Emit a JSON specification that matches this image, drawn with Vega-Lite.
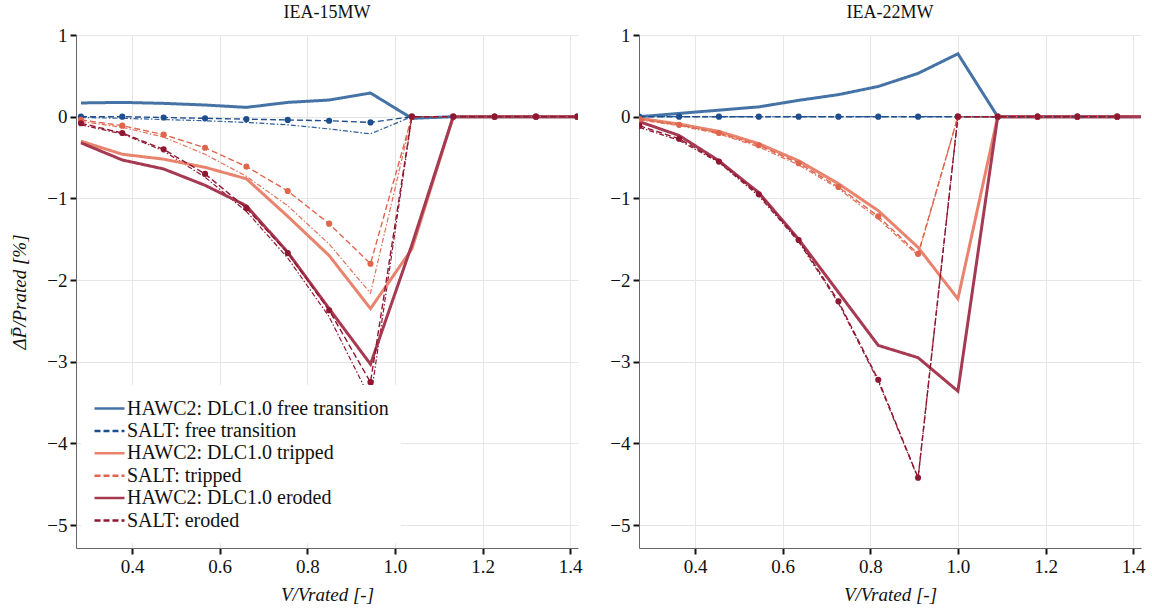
{
  "$schema": "https://vega.github.io/schema/vega-lite/v6.json",
  "background": "white",
  "padding": {"left": 10, "top": 4, "right": 5, "bottom": 5},
  "config": {
    "font": "Liberation Serif",
    "view": {"stroke": null},
    "axis": {
      "labelFont": "Liberation Serif", "labelFontSize": 19, "labelColor": "#111",
      "titleFont": "Liberation Serif", "titleFontSize": 19, "titleFontWeight": "normal", "titleColor": "#111",
      "gridColor": "#e6e6e6", "gridWidth": 1,
      "domainColor": "#666", "domainWidth": 1,
      "tickColor": "#111", "tickWidth": 2, "tickSize": 6, "labelPadding": 3
    },
    "title": {"font": "Liberation Serif", "fontSize": 18, "fontWeight": "normal", "color": "#111", "offset": 0},
    "concat": {"spacing": 27}
  },
  "datasets": {
    "d": [
      {"p":"IEA-15MW","s":"ref: free transition","x":0.2833,"y":-0.01},
      {"p":"IEA-15MW","s":"ref: free transition","x":0.3777,"y":-0.02},
      {"p":"IEA-15MW","s":"ref: free transition","x":0.4721,"y":-0.035},
      {"p":"IEA-15MW","s":"ref: free transition","x":0.5666,"y":-0.05},
      {"p":"IEA-15MW","s":"ref: free transition","x":0.6610,"y":-0.07},
      {"p":"IEA-15MW","s":"ref: free transition","x":0.7554,"y":-0.1},
      {"p":"IEA-15MW","s":"ref: free transition","x":0.8499,"y":-0.15},
      {"p":"IEA-15MW","s":"ref: free transition","x":0.9443,"y":-0.21},
      {"p":"IEA-15MW","s":"ref: free transition","x":1.0387,"y":0},
      {"p":"IEA-15MW","s":"ref: free transition","x":1.1331,"y":0},
      {"p":"IEA-15MW","s":"ref: free transition","x":1.2276,"y":0},
      {"p":"IEA-15MW","s":"ref: free transition","x":1.3220,"y":0},
      {"p":"IEA-15MW","s":"ref: free transition","x":1.4164,"y":0},
      {"p":"IEA-15MW","s":"ref: free transition","x":1.5109,"y":0},
      {"p":"IEA-15MW","s":"ref: tripped","x":0.2833,"y":-0.06},
      {"p":"IEA-15MW","s":"ref: tripped","x":0.3777,"y":-0.13},
      {"p":"IEA-15MW","s":"ref: tripped","x":0.4721,"y":-0.25},
      {"p":"IEA-15MW","s":"ref: tripped","x":0.5666,"y":-0.46},
      {"p":"IEA-15MW","s":"ref: tripped","x":0.6610,"y":-0.73},
      {"p":"IEA-15MW","s":"ref: tripped","x":0.7554,"y":-1.09},
      {"p":"IEA-15MW","s":"ref: tripped","x":0.8499,"y":-1.56},
      {"p":"IEA-15MW","s":"ref: tripped","x":0.9443,"y":-2.16},
      {"p":"IEA-15MW","s":"ref: tripped","x":1.0387,"y":0},
      {"p":"IEA-15MW","s":"ref: tripped","x":1.1331,"y":0},
      {"p":"IEA-15MW","s":"ref: tripped","x":1.2276,"y":0},
      {"p":"IEA-15MW","s":"ref: tripped","x":1.3220,"y":0},
      {"p":"IEA-15MW","s":"ref: tripped","x":1.4164,"y":0},
      {"p":"IEA-15MW","s":"ref: tripped","x":1.5109,"y":0},
      {"p":"IEA-15MW","s":"ref: eroded","x":0.2833,"y":-0.10},
      {"p":"IEA-15MW","s":"ref: eroded","x":0.3777,"y":-0.21},
      {"p":"IEA-15MW","s":"ref: eroded","x":0.4721,"y":-0.42},
      {"p":"IEA-15MW","s":"ref: eroded","x":0.5666,"y":-0.74},
      {"p":"IEA-15MW","s":"ref: eroded","x":0.6610,"y":-1.16},
      {"p":"IEA-15MW","s":"ref: eroded","x":0.7554,"y":-1.73},
      {"p":"IEA-15MW","s":"ref: eroded","x":0.8499,"y":-2.45},
      {"p":"IEA-15MW","s":"ref: eroded","x":0.9443,"y":-3.46},
      {"p":"IEA-15MW","s":"ref: eroded","x":1.0387,"y":0},
      {"p":"IEA-15MW","s":"ref: eroded","x":1.1331,"y":0},
      {"p":"IEA-15MW","s":"ref: eroded","x":1.2276,"y":0},
      {"p":"IEA-15MW","s":"ref: eroded","x":1.3220,"y":0},
      {"p":"IEA-15MW","s":"ref: eroded","x":1.4164,"y":0},
      {"p":"IEA-15MW","s":"ref: eroded","x":1.5109,"y":0},

      {"p":"IEA-15MW","s":"HAWC2: DLC1.0 free transition","x":0.2833,"y":0.168},
      {"p":"IEA-15MW","s":"HAWC2: DLC1.0 free transition","x":0.3777,"y":0.175},
      {"p":"IEA-15MW","s":"HAWC2: DLC1.0 free transition","x":0.4721,"y":0.163},
      {"p":"IEA-15MW","s":"HAWC2: DLC1.0 free transition","x":0.5666,"y":0.143},
      {"p":"IEA-15MW","s":"HAWC2: DLC1.0 free transition","x":0.6610,"y":0.114},
      {"p":"IEA-15MW","s":"HAWC2: DLC1.0 free transition","x":0.7554,"y":0.175},
      {"p":"IEA-15MW","s":"HAWC2: DLC1.0 free transition","x":0.8499,"y":0.204},
      {"p":"IEA-15MW","s":"HAWC2: DLC1.0 free transition","x":0.9443,"y":0.29},
      {"p":"IEA-15MW","s":"HAWC2: DLC1.0 free transition","x":1.0387,"y":-0.02},
      {"p":"IEA-15MW","s":"HAWC2: DLC1.0 free transition","x":1.1331,"y":0},
      {"p":"IEA-15MW","s":"HAWC2: DLC1.0 free transition","x":1.2276,"y":0},
      {"p":"IEA-15MW","s":"HAWC2: DLC1.0 free transition","x":1.3220,"y":0},
      {"p":"IEA-15MW","s":"HAWC2: DLC1.0 free transition","x":1.4164,"y":0},
      {"p":"IEA-15MW","s":"HAWC2: DLC1.0 free transition","x":1.5109,"y":0},
      {"p":"IEA-15MW","s":"HAWC2: DLC1.0 tripped","x":0.2833,"y":-0.30},
      {"p":"IEA-15MW","s":"HAWC2: DLC1.0 tripped","x":0.3777,"y":-0.46},
      {"p":"IEA-15MW","s":"HAWC2: DLC1.0 tripped","x":0.4721,"y":-0.52},
      {"p":"IEA-15MW","s":"HAWC2: DLC1.0 tripped","x":0.5666,"y":-0.62},
      {"p":"IEA-15MW","s":"HAWC2: DLC1.0 tripped","x":0.6610,"y":-0.76},
      {"p":"IEA-15MW","s":"HAWC2: DLC1.0 tripped","x":0.7554,"y":-1.22},
      {"p":"IEA-15MW","s":"HAWC2: DLC1.0 tripped","x":0.8499,"y":-1.70},
      {"p":"IEA-15MW","s":"HAWC2: DLC1.0 tripped","x":0.9443,"y":-2.35},
      {"p":"IEA-15MW","s":"HAWC2: DLC1.0 tripped","x":1.0387,"y":-1.62},
      {"p":"IEA-15MW","s":"HAWC2: DLC1.0 tripped","x":1.1331,"y":0},
      {"p":"IEA-15MW","s":"HAWC2: DLC1.0 tripped","x":1.2276,"y":0},
      {"p":"IEA-15MW","s":"HAWC2: DLC1.0 tripped","x":1.3220,"y":0},
      {"p":"IEA-15MW","s":"HAWC2: DLC1.0 tripped","x":1.4164,"y":0},
      {"p":"IEA-15MW","s":"HAWC2: DLC1.0 tripped","x":1.5109,"y":0},
      {"p":"IEA-15MW","s":"HAWC2: DLC1.0 eroded","x":0.2833,"y":-0.32},
      {"p":"IEA-15MW","s":"HAWC2: DLC1.0 eroded","x":0.3777,"y":-0.53},
      {"p":"IEA-15MW","s":"HAWC2: DLC1.0 eroded","x":0.4721,"y":-0.64},
      {"p":"IEA-15MW","s":"HAWC2: DLC1.0 eroded","x":0.5666,"y":-0.84},
      {"p":"IEA-15MW","s":"HAWC2: DLC1.0 eroded","x":0.6610,"y":-1.09},
      {"p":"IEA-15MW","s":"HAWC2: DLC1.0 eroded","x":0.7554,"y":-1.66},
      {"p":"IEA-15MW","s":"HAWC2: DLC1.0 eroded","x":0.8499,"y":-2.35},
      {"p":"IEA-15MW","s":"HAWC2: DLC1.0 eroded","x":0.9443,"y":-3.03},
      {"p":"IEA-15MW","s":"HAWC2: DLC1.0 eroded","x":1.0387,"y":-1.57},
      {"p":"IEA-15MW","s":"HAWC2: DLC1.0 eroded","x":1.1331,"y":0},
      {"p":"IEA-15MW","s":"HAWC2: DLC1.0 eroded","x":1.2276,"y":0},
      {"p":"IEA-15MW","s":"HAWC2: DLC1.0 eroded","x":1.3220,"y":0},
      {"p":"IEA-15MW","s":"HAWC2: DLC1.0 eroded","x":1.4164,"y":0},
      {"p":"IEA-15MW","s":"HAWC2: DLC1.0 eroded","x":1.5109,"y":0},

      {"p":"IEA-15MW","s":"SALT: free transition","x":0.2833,"y":0},
      {"p":"IEA-15MW","s":"SALT: free transition","x":0.3777,"y":0},
      {"p":"IEA-15MW","s":"SALT: free transition","x":0.4721,"y":-0.01},
      {"p":"IEA-15MW","s":"SALT: free transition","x":0.5666,"y":-0.02},
      {"p":"IEA-15MW","s":"SALT: free transition","x":0.6610,"y":-0.03},
      {"p":"IEA-15MW","s":"SALT: free transition","x":0.7554,"y":-0.04},
      {"p":"IEA-15MW","s":"SALT: free transition","x":0.8499,"y":-0.05},
      {"p":"IEA-15MW","s":"SALT: free transition","x":0.9443,"y":-0.07},
      {"p":"IEA-15MW","s":"SALT: free transition","x":1.0387,"y":0},
      {"p":"IEA-15MW","s":"SALT: free transition","x":1.1331,"y":0},
      {"p":"IEA-15MW","s":"SALT: free transition","x":1.2276,"y":0},
      {"p":"IEA-15MW","s":"SALT: free transition","x":1.3220,"y":0},
      {"p":"IEA-15MW","s":"SALT: free transition","x":1.4164,"y":0},
      {"p":"IEA-15MW","s":"SALT: tripped","x":0.2833,"y":-0.04},
      {"p":"IEA-15MW","s":"SALT: tripped","x":0.3777,"y":-0.11},
      {"p":"IEA-15MW","s":"SALT: tripped","x":0.4721,"y":-0.22},
      {"p":"IEA-15MW","s":"SALT: tripped","x":0.5666,"y":-0.38},
      {"p":"IEA-15MW","s":"SALT: tripped","x":0.6610,"y":-0.61},
      {"p":"IEA-15MW","s":"SALT: tripped","x":0.7554,"y":-0.91},
      {"p":"IEA-15MW","s":"SALT: tripped","x":0.8499,"y":-1.31},
      {"p":"IEA-15MW","s":"SALT: tripped","x":0.9443,"y":-1.80},
      {"p":"IEA-15MW","s":"SALT: tripped","x":1.0387,"y":0},
      {"p":"IEA-15MW","s":"SALT: tripped","x":1.1331,"y":0},
      {"p":"IEA-15MW","s":"SALT: tripped","x":1.2276,"y":0},
      {"p":"IEA-15MW","s":"SALT: tripped","x":1.3220,"y":0},
      {"p":"IEA-15MW","s":"SALT: tripped","x":1.4164,"y":0},
      {"p":"IEA-15MW","s":"SALT: eroded","x":0.2833,"y":-0.08},
      {"p":"IEA-15MW","s":"SALT: eroded","x":0.3777,"y":-0.20},
      {"p":"IEA-15MW","s":"SALT: eroded","x":0.4721,"y":-0.40},
      {"p":"IEA-15MW","s":"SALT: eroded","x":0.5666,"y":-0.70},
      {"p":"IEA-15MW","s":"SALT: eroded","x":0.6610,"y":-1.12},
      {"p":"IEA-15MW","s":"SALT: eroded","x":0.7554,"y":-1.67},
      {"p":"IEA-15MW","s":"SALT: eroded","x":0.8499,"y":-2.37},
      {"p":"IEA-15MW","s":"SALT: eroded","x":0.9443,"y":-3.25},
      {"p":"IEA-15MW","s":"SALT: eroded","x":1.0387,"y":0},
      {"p":"IEA-15MW","s":"SALT: eroded","x":1.1331,"y":0},
      {"p":"IEA-15MW","s":"SALT: eroded","x":1.2276,"y":0},
      {"p":"IEA-15MW","s":"SALT: eroded","x":1.3220,"y":0},
      {"p":"IEA-15MW","s":"SALT: eroded","x":1.4164,"y":0},

      {"p":"IEA-22MW","s":"ref: free transition","x":0.2727,"y":0},
      {"p":"IEA-22MW","s":"ref: free transition","x":0.3636,"y":0},
      {"p":"IEA-22MW","s":"ref: free transition","x":0.4545,"y":0},
      {"p":"IEA-22MW","s":"ref: free transition","x":0.5455,"y":0},
      {"p":"IEA-22MW","s":"ref: free transition","x":0.6364,"y":0},
      {"p":"IEA-22MW","s":"ref: free transition","x":0.7273,"y":0},
      {"p":"IEA-22MW","s":"ref: free transition","x":0.8182,"y":0},
      {"p":"IEA-22MW","s":"ref: free transition","x":0.9091,"y":0},
      {"p":"IEA-22MW","s":"ref: free transition","x":1.0,"y":0},
      {"p":"IEA-22MW","s":"ref: free transition","x":1.0909,"y":0},
      {"p":"IEA-22MW","s":"ref: free transition","x":1.1818,"y":0},
      {"p":"IEA-22MW","s":"ref: free transition","x":1.2727,"y":0},
      {"p":"IEA-22MW","s":"ref: free transition","x":1.3636,"y":0},
      {"p":"IEA-22MW","s":"ref: free transition","x":1.4545,"y":0},
      {"p":"IEA-22MW","s":"ref: tripped","x":0.2727,"y":-0.04},
      {"p":"IEA-22MW","s":"ref: tripped","x":0.3636,"y":-0.11},
      {"p":"IEA-22MW","s":"ref: tripped","x":0.4545,"y":-0.21},
      {"p":"IEA-22MW","s":"ref: tripped","x":0.5455,"y":-0.37},
      {"p":"IEA-22MW","s":"ref: tripped","x":0.6364,"y":-0.59},
      {"p":"IEA-22MW","s":"ref: tripped","x":0.7273,"y":-0.88},
      {"p":"IEA-22MW","s":"ref: tripped","x":0.8182,"y":-1.25},
      {"p":"IEA-22MW","s":"ref: tripped","x":0.9091,"y":-1.70},
      {"p":"IEA-22MW","s":"ref: tripped","x":1.0,"y":0},
      {"p":"IEA-22MW","s":"ref: tripped","x":1.0909,"y":0},
      {"p":"IEA-22MW","s":"ref: tripped","x":1.1818,"y":0},
      {"p":"IEA-22MW","s":"ref: tripped","x":1.2727,"y":0},
      {"p":"IEA-22MW","s":"ref: tripped","x":1.3636,"y":0},
      {"p":"IEA-22MW","s":"ref: tripped","x":1.4545,"y":0},
      {"p":"IEA-22MW","s":"ref: eroded","x":0.2727,"y":-0.13},
      {"p":"IEA-22MW","s":"ref: eroded","x":0.3636,"y":-0.29},
      {"p":"IEA-22MW","s":"ref: eroded","x":0.4545,"y":-0.56},
      {"p":"IEA-22MW","s":"ref: eroded","x":0.5455,"y":-0.97},
      {"p":"IEA-22MW","s":"ref: eroded","x":0.6364,"y":-1.53},
      {"p":"IEA-22MW","s":"ref: eroded","x":0.7273,"y":-2.28},
      {"p":"IEA-22MW","s":"ref: eroded","x":0.8182,"y":-3.24},
      {"p":"IEA-22MW","s":"ref: eroded","x":0.9091,"y":-4.43},
      {"p":"IEA-22MW","s":"ref: eroded","x":1.0,"y":0},
      {"p":"IEA-22MW","s":"ref: eroded","x":1.0909,"y":0},
      {"p":"IEA-22MW","s":"ref: eroded","x":1.1818,"y":0},
      {"p":"IEA-22MW","s":"ref: eroded","x":1.2727,"y":0},
      {"p":"IEA-22MW","s":"ref: eroded","x":1.3636,"y":0},
      {"p":"IEA-22MW","s":"ref: eroded","x":1.4545,"y":0},

      {"p":"IEA-22MW","s":"HAWC2: DLC1.0 free transition","x":0.2727,"y":0},
      {"p":"IEA-22MW","s":"HAWC2: DLC1.0 free transition","x":0.3636,"y":0.04},
      {"p":"IEA-22MW","s":"HAWC2: DLC1.0 free transition","x":0.4545,"y":0.08},
      {"p":"IEA-22MW","s":"HAWC2: DLC1.0 free transition","x":0.5455,"y":0.12},
      {"p":"IEA-22MW","s":"HAWC2: DLC1.0 free transition","x":0.6364,"y":0.20},
      {"p":"IEA-22MW","s":"HAWC2: DLC1.0 free transition","x":0.7273,"y":0.27},
      {"p":"IEA-22MW","s":"HAWC2: DLC1.0 free transition","x":0.8182,"y":0.37},
      {"p":"IEA-22MW","s":"HAWC2: DLC1.0 free transition","x":0.9091,"y":0.53},
      {"p":"IEA-22MW","s":"HAWC2: DLC1.0 free transition","x":1.0,"y":0.77},
      {"p":"IEA-22MW","s":"HAWC2: DLC1.0 free transition","x":1.0909,"y":0},
      {"p":"IEA-22MW","s":"HAWC2: DLC1.0 free transition","x":1.1818,"y":0},
      {"p":"IEA-22MW","s":"HAWC2: DLC1.0 free transition","x":1.2727,"y":0},
      {"p":"IEA-22MW","s":"HAWC2: DLC1.0 free transition","x":1.3636,"y":0},
      {"p":"IEA-22MW","s":"HAWC2: DLC1.0 free transition","x":1.4545,"y":0},
      {"p":"IEA-22MW","s":"HAWC2: DLC1.0 tripped","x":0.2727,"y":-0.02},
      {"p":"IEA-22MW","s":"HAWC2: DLC1.0 tripped","x":0.3636,"y":-0.09},
      {"p":"IEA-22MW","s":"HAWC2: DLC1.0 tripped","x":0.4545,"y":-0.18},
      {"p":"IEA-22MW","s":"HAWC2: DLC1.0 tripped","x":0.5455,"y":-0.33},
      {"p":"IEA-22MW","s":"HAWC2: DLC1.0 tripped","x":0.6364,"y":-0.54},
      {"p":"IEA-22MW","s":"HAWC2: DLC1.0 tripped","x":0.7273,"y":-0.82},
      {"p":"IEA-22MW","s":"HAWC2: DLC1.0 tripped","x":0.8182,"y":-1.15},
      {"p":"IEA-22MW","s":"HAWC2: DLC1.0 tripped","x":0.9091,"y":-1.60},
      {"p":"IEA-22MW","s":"HAWC2: DLC1.0 tripped","x":1.0,"y":-2.23},
      {"p":"IEA-22MW","s":"HAWC2: DLC1.0 tripped","x":1.0909,"y":0},
      {"p":"IEA-22MW","s":"HAWC2: DLC1.0 tripped","x":1.1818,"y":0},
      {"p":"IEA-22MW","s":"HAWC2: DLC1.0 tripped","x":1.2727,"y":0},
      {"p":"IEA-22MW","s":"HAWC2: DLC1.0 tripped","x":1.3636,"y":0},
      {"p":"IEA-22MW","s":"HAWC2: DLC1.0 tripped","x":1.4545,"y":0},
      {"p":"IEA-22MW","s":"HAWC2: DLC1.0 eroded","x":0.2727,"y":-0.06},
      {"p":"IEA-22MW","s":"HAWC2: DLC1.0 eroded","x":0.3636,"y":-0.23},
      {"p":"IEA-22MW","s":"HAWC2: DLC1.0 eroded","x":0.4545,"y":-0.54},
      {"p":"IEA-22MW","s":"HAWC2: DLC1.0 eroded","x":0.5455,"y":-0.93},
      {"p":"IEA-22MW","s":"HAWC2: DLC1.0 eroded","x":0.6364,"y":-1.50},
      {"p":"IEA-22MW","s":"HAWC2: DLC1.0 eroded","x":0.7273,"y":-2.15},
      {"p":"IEA-22MW","s":"HAWC2: DLC1.0 eroded","x":0.8182,"y":-2.80},
      {"p":"IEA-22MW","s":"HAWC2: DLC1.0 eroded","x":0.9091,"y":-2.95},
      {"p":"IEA-22MW","s":"HAWC2: DLC1.0 eroded","x":1.0,"y":-3.36},
      {"p":"IEA-22MW","s":"HAWC2: DLC1.0 eroded","x":1.0909,"y":0},
      {"p":"IEA-22MW","s":"HAWC2: DLC1.0 eroded","x":1.1818,"y":0},
      {"p":"IEA-22MW","s":"HAWC2: DLC1.0 eroded","x":1.2727,"y":0},
      {"p":"IEA-22MW","s":"HAWC2: DLC1.0 eroded","x":1.3636,"y":0},
      {"p":"IEA-22MW","s":"HAWC2: DLC1.0 eroded","x":1.4545,"y":0},

      {"p":"IEA-22MW","s":"SALT: free transition","x":0.2727,"y":0},
      {"p":"IEA-22MW","s":"SALT: free transition","x":0.3636,"y":0},
      {"p":"IEA-22MW","s":"SALT: free transition","x":0.4545,"y":0},
      {"p":"IEA-22MW","s":"SALT: free transition","x":0.5455,"y":0},
      {"p":"IEA-22MW","s":"SALT: free transition","x":0.6364,"y":0},
      {"p":"IEA-22MW","s":"SALT: free transition","x":0.7273,"y":0},
      {"p":"IEA-22MW","s":"SALT: free transition","x":0.8182,"y":0},
      {"p":"IEA-22MW","s":"SALT: free transition","x":0.9091,"y":0},
      {"p":"IEA-22MW","s":"SALT: free transition","x":1.0,"y":0},
      {"p":"IEA-22MW","s":"SALT: free transition","x":1.0909,"y":0},
      {"p":"IEA-22MW","s":"SALT: free transition","x":1.1818,"y":0},
      {"p":"IEA-22MW","s":"SALT: free transition","x":1.2727,"y":0},
      {"p":"IEA-22MW","s":"SALT: free transition","x":1.3636,"y":0},
      {"p":"IEA-22MW","s":"SALT: tripped","x":0.2727,"y":-0.03},
      {"p":"IEA-22MW","s":"SALT: tripped","x":0.3636,"y":-0.10},
      {"p":"IEA-22MW","s":"SALT: tripped","x":0.4545,"y":-0.20},
      {"p":"IEA-22MW","s":"SALT: tripped","x":0.5455,"y":-0.35},
      {"p":"IEA-22MW","s":"SALT: tripped","x":0.6364,"y":-0.57},
      {"p":"IEA-22MW","s":"SALT: tripped","x":0.7273,"y":-0.86},
      {"p":"IEA-22MW","s":"SALT: tripped","x":0.8182,"y":-1.22},
      {"p":"IEA-22MW","s":"SALT: tripped","x":0.9091,"y":-1.68},
      {"p":"IEA-22MW","s":"SALT: tripped","x":1.0,"y":0},
      {"p":"IEA-22MW","s":"SALT: tripped","x":1.0909,"y":0},
      {"p":"IEA-22MW","s":"SALT: tripped","x":1.1818,"y":0},
      {"p":"IEA-22MW","s":"SALT: tripped","x":1.2727,"y":0},
      {"p":"IEA-22MW","s":"SALT: tripped","x":1.3636,"y":0},
      {"p":"IEA-22MW","s":"SALT: eroded","x":0.2727,"y":-0.11},
      {"p":"IEA-22MW","s":"SALT: eroded","x":0.3636,"y":-0.27},
      {"p":"IEA-22MW","s":"SALT: eroded","x":0.4545,"y":-0.55},
      {"p":"IEA-22MW","s":"SALT: eroded","x":0.5455,"y":-0.95},
      {"p":"IEA-22MW","s":"SALT: eroded","x":0.6364,"y":-1.51},
      {"p":"IEA-22MW","s":"SALT: eroded","x":0.7273,"y":-2.26},
      {"p":"IEA-22MW","s":"SALT: eroded","x":0.8182,"y":-3.22},
      {"p":"IEA-22MW","s":"SALT: eroded","x":0.9091,"y":-4.42},
      {"p":"IEA-22MW","s":"SALT: eroded","x":1.0,"y":0},
      {"p":"IEA-22MW","s":"SALT: eroded","x":1.0909,"y":0},
      {"p":"IEA-22MW","s":"SALT: eroded","x":1.1818,"y":0},
      {"p":"IEA-22MW","s":"SALT: eroded","x":1.2727,"y":0},
      {"p":"IEA-22MW","s":"SALT: eroded","x":1.3636,"y":0}
    ]
  },
  "hconcat": [
    {
      "title": {"text": "IEA-15MW"},
      "width": 502,
      "height": 513,
      "data": {"name": "d"},
      "transform": [{"filter": "datum.p === 'IEA-15MW'"}],
      "encoding": {
        "x": {"field": "x", "type": "quantitative",
              "scale": {"domain": [0.272, 1.418], "nice": false, "zero": false},
              "axis": {"values": [0.4, 0.6, 0.8, 1.0, 1.2, 1.4], "format": ".1f", "title": "V/Vrated [-]", "titleFontStyle": "italic", "titlePadding": 9}},
        "y": {"field": "y", "type": "quantitative",
              "scale": {"domain": [-5.28, 1], "nice": false, "zero": false},
              "axis": {"values": [-5, -4, -3, -2, -1, 0, 1], "format": "d", "title": "ΔP̄/Prated [%]", "titleFontStyle": "italic", "titlePadding": 17}},
        "color": {"field": "s", "type": "nominal",
                  "scale": {"domain": ["HAWC2: DLC1.0 free transition", "SALT: free transition", "HAWC2: DLC1.0 tripped", "SALT: tripped", "HAWC2: DLC1.0 eroded", "SALT: eroded", "ref: free transition", "ref: tripped", "ref: eroded"],
                            "range": ["#4573a5", "#1f4e8f", "#e8836e", "#e0654d", "#a53a52", "#8f1732", "#2d5f9a", "#e2705a", "#8f1732"]},
                  "legend": {"title": null, "values": ["HAWC2: DLC1.0 free transition", "SALT: free transition", "HAWC2: DLC1.0 tripped", "SALT: tripped", "HAWC2: DLC1.0 eroded", "SALT: eroded"],
                             "orient": "bottom-left", "offset": 5, "padding": 12, "fillColor": "white",
                             "labelFont": "Liberation Serif", "labelFontSize": 20, "labelColor": "#111", "labelLimit": 500,
                             "symbolType": "M-1,0H2", "symbolSize": 400, "symbolStrokeWidth": 2.5, "rowPadding": 0.4, "labelOffset": 11}}
      },
      "layer": [
        {
          "transform": [{"filter": "indexof(datum.s, 'ref') === 0"}],
          "mark": {"type": "line", "strokeWidth": 1.2, "clip": true},
          "encoding": {
            "strokeDash": {"field": "s", "type": "nominal",
                           "scale": {"domain": ["HAWC2: DLC1.0 free transition", "SALT: free transition", "HAWC2: DLC1.0 tripped", "SALT: tripped", "HAWC2: DLC1.0 eroded", "SALT: eroded", "ref: free transition", "ref: tripped", "ref: eroded"],
                                     "range": [[1, 0], [6, 3], [1, 0], [6, 3], [1, 0], [6, 3], [5, 2, 1.5, 2], [5, 2, 1.5, 2], [5, 2, 1.5, 2]]},
                           "legend": {"title": null, "values": ["HAWC2: DLC1.0 free transition", "SALT: free transition", "HAWC2: DLC1.0 tripped", "SALT: tripped", "HAWC2: DLC1.0 eroded", "SALT: eroded"],
                             "orient": "bottom-left", "offset": 5, "padding": 12, "fillColor": "white",
                             "labelFont": "Liberation Serif", "labelFontSize": 20, "labelColor": "#111", "labelLimit": 500,
                             "symbolType": "M-1,0H2", "symbolSize": 400, "symbolStrokeWidth": 2.5, "rowPadding": 0.4, "labelOffset": 11}}
          }
        },
        {
          "transform": [{"filter": "indexof(datum.s, 'HAWC2') === 0"}],
          "mark": {"type": "line", "strokeWidth": 3, "clip": true},
          "encoding": {
            "strokeDash": {"field": "s", "type": "nominal"}
          }
        },
        {
          "transform": [{"filter": "indexof(datum.s, 'SALT') === 0"}],
          "mark": {"type": "line", "strokeWidth": 1.4, "clip": true},
          "encoding": {
            "strokeDash": {"field": "s", "type": "nominal"}
          }
        },
        {
          "transform": [{"filter": "indexof(datum.s, 'SALT') === 0"}],
          "mark": {"type": "point", "filled": true, "opacity": 1, "size": 38, "clip": true}
        }
      ]
    },
    {
      "title": {"text": "IEA-22MW"},
      "width": 502,
      "height": 513,
      "data": {"name": "d"},
      "transform": [{"filter": "datum.p === 'IEA-22MW'"}],
      "encoding": {
        "x": {"field": "x", "type": "quantitative",
              "scale": {"domain": [0.272, 1.418], "nice": false, "zero": false},
              "axis": {"values": [0.4, 0.6, 0.8, 1.0, 1.2, 1.4], "format": ".1f", "title": "V/Vrated [-]", "titleFontStyle": "italic", "titlePadding": 9}},
        "y": {"field": "y", "type": "quantitative",
              "scale": {"domain": [-5.28, 1], "nice": false, "zero": false},
              "axis": {"values": [-5, -4, -3, -2, -1, 0, 1], "format": "d", "title": null}},
        "color": {"field": "s", "type": "nominal", "legend": null}
      },
      "layer": [
        {
          "transform": [{"filter": "indexof(datum.s, 'ref') === 0"}],
          "mark": {"type": "line", "strokeWidth": 1.2, "clip": true},
          "encoding": {"strokeDash": {"field": "s", "type": "nominal", "legend": null}}
        },
        {
          "transform": [{"filter": "indexof(datum.s, 'HAWC2') === 0"}],
          "mark": {"type": "line", "strokeWidth": 3, "clip": true},
          "encoding": {"strokeDash": {"field": "s", "type": "nominal", "legend": null}}
        },
        {
          "transform": [{"filter": "indexof(datum.s, 'SALT') === 0"}],
          "mark": {"type": "line", "strokeWidth": 1.4, "clip": true},
          "encoding": {"strokeDash": {"field": "s", "type": "nominal", "legend": null}}
        },
        {
          "transform": [{"filter": "indexof(datum.s, 'SALT') === 0"}],
          "mark": {"type": "point", "filled": true, "opacity": 1, "size": 38, "clip": true}
        }
      ]
    }
  ],
  "resolve": {"legend": {"color": "independent", "strokeDash": "independent"}}
}
